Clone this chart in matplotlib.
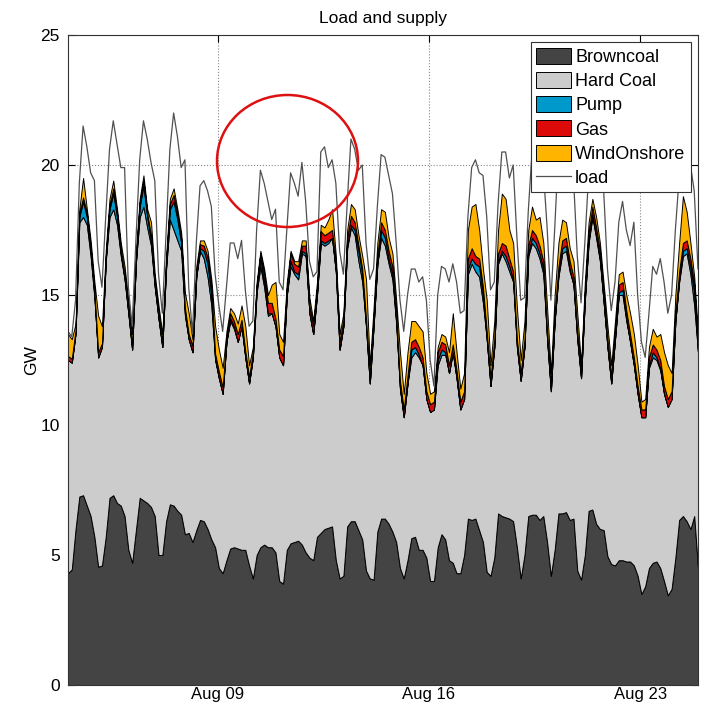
import matplotlib
matplotlib.use('Agg')
import matplotlib.pyplot as plt
import matplotlib.dates as mdates
from matplotlib.patches import Ellipse
import pandas as pd

plt.rcParams['font.family'] = ['Liberation Sans', 'DejaVu Sans']

# 3-hourly samples, Aug 04 01:00 .. Aug 24 22:00 (one row per day)
times = pd.date_range('2015-08-04 01:00', periods=168, freq='3h')

browncoal = [
    4.3, 4.45, 6.0, 7.25, 7.3, 6.9, 6.5, 5.7,
    4.55, 4.6, 5.7, 7.2, 7.3, 7.0, 6.9, 6.5,
    5.2, 4.7, 5.96, 7.2, 7.1, 7.0, 6.85, 6.5,
    5.0, 5.0, 6.3, 6.95, 6.9, 6.7, 6.55, 5.8,
    5.85, 5.5, 5.95, 6.35, 6.3, 6.0, 5.6, 5.3,
    4.5, 4.3, 4.8, 5.25, 5.3, 5.25, 5.2, 5.2,
    4.6, 4.1, 5.0, 5.3, 5.4, 5.3, 5.3, 5.1,
    4.0, 3.9, 5.2, 5.45, 5.5, 5.55, 5.4, 5.1,
    4.9, 4.8, 5.7, 5.85, 6.0, 6.05, 6.1, 4.8,
    4.1, 4.2, 6.1, 6.3, 6.3, 5.95, 5.6, 4.4,
    4.1, 4.05, 5.9, 6.4, 6.4, 6.2, 5.9, 5.5,
    4.5, 4.1, 4.8, 5.65, 5.7, 5.2, 5.2, 4.9,
    4.0, 4.0, 5.3, 5.8, 5.6, 4.8, 4.7, 4.3,
    4.3, 5.0, 6.4, 6.35, 6.4, 5.95, 5.5, 4.35,
    4.2, 4.9, 6.6, 6.5, 6.45, 6.4, 6.3, 5.3,
    4.1, 5.0, 6.5, 6.55, 6.55, 6.35, 6.5, 5.5,
    4.2, 5.2, 6.6, 6.6, 6.65, 6.35, 6.4, 4.4,
    4.05, 5.0, 6.7, 6.75, 6.2, 6.0, 5.96, 4.95,
    4.65, 4.6, 4.8, 4.8, 4.75, 4.75, 4.6, 4.2,
    3.5, 3.8, 4.5, 4.7, 4.75, 4.5, 4.0, 3.45,
    3.7, 4.9, 6.35, 6.5, 6.3, 6.0, 6.5, 4.5,
]

hardcoal = [
    8.2, 7.95, 7.5, 10.55, 10.7, 10.8, 10.0, 9.2,
    8.05, 8.4, 10.6, 10.8, 11.0, 10.7, 9.6, 9.1,
    9.1, 8.2, 10.3, 10.8, 11.3, 10.6, 10.05, 8.8,
    9.1, 8.0, 9.7, 10.95, 10.6, 10.4, 10.15, 8.4,
    7.45, 7.3, 9.75, 10.35, 10.1, 9.7, 9.0, 7.2,
    7.3, 6.9, 8.4, 8.75, 8.4, 7.95, 8.6, 7.4,
    7.0, 8.5, 10.1, 10.8, 9.9, 8.9, 9.0, 8.7,
    8.6, 8.4, 9.8, 10.65, 10.3, 10.05, 11.2, 11.4,
    9.4, 8.7, 9.3, 11.15, 10.9, 10.95, 11.1, 11.1,
    8.8, 9.6, 10.7, 11.3, 11.0, 10.35, 9.9, 9.4,
    7.5, 9.75, 10.3, 10.8, 10.5, 10.0, 9.7, 8.4,
    6.9, 6.2, 6.8, 6.95, 7.1, 7.4, 7.1, 6.1,
    6.5, 6.6, 7.0, 6.9, 7.1, 7.2, 8.1, 7.5,
    6.3, 6.0, 9.4, 9.85, 9.5, 9.75, 9.2, 8.95,
    7.3, 8.1, 9.6, 10.1, 9.85, 9.5, 9.2, 7.7,
    7.6, 8.0, 10.0, 10.45, 10.25, 10.05, 9.3, 7.8,
    7.1, 8.8, 9.1, 10.0, 10.05, 9.55, 9.0, 8.9,
    7.75, 9.8, 10.3, 11.25, 11.0, 10.3, 8.75, 8.05,
    6.95, 8.7, 10.2, 10.2, 9.25, 8.45, 7.7, 7.0,
    6.8, 6.5, 7.7, 7.9, 7.75, 7.6, 7.2, 7.25,
    7.3, 9.1, 9.15, 10.0, 10.3, 9.8, 8.1, 8.3,
]

pump = [
    0, 0, 0.05, 0.2, 0.6, 0.3, 0.2, 0.1,
    0, 0, 0.05, 0.3, 0.6, 0.3, 0.1, 0.05,
    0, 0, 0, 0.4, 0.8, 0.4, 0.2, 0.05,
    0, 0, 0.1, 0.4, 1.1, 0.8, 0.3, 0.1,
    0, 0, 0, 0.1, 0.3, 0.5, 0.4, 0.05,
    0, 0, 0, 0.1, 0.1, 0, 0, 0,
    0, 0, 0.1, 0.3, 0.2, 0.1, 0, 0,
    0, 0, 0, 0.2, 0.1, 0.2, 0.1, 0.1,
    0, 0, 0, 0.1, 0.1, 0.1, 0, 0,
    0, 0, 0.1, 0.1, 0.2, 0.4, 0.3, 0,
    0, 0, 0, 0.3, 0.3, 0.2, 0.2, 0.1,
    0, 0, 0, 0.3, 0.2, 0.1, 0, 0,
    0, 0, 0.2, 0.2, 0.1, 0, 0, 0,
    0, 0, 0.2, 0.2, 0.3, 0.4, 0.3, 0,
    0, 0, 0.1, 0.1, 0.2, 0.2, 0.1, 0,
    0, 0, 0.1, 0.2, 0.2, 0.2, 0.2, 0,
    0, 0, 0.1, 0.2, 0.2, 0.1, 0, 0,
    0, 0, 0.1, 0.1, 0.1, 0.1, 0, 0,
    0, 0, 0.1, 0.2, 0.1, 0, 0, 0,
    0, 0, 0.1, 0.2, 0.1, 0.1, 0, 0,
    0, 0, 0.1, 0.2, 0.2, 0.3, 0.5, 0,
]

gas = [
    0.15, 0.15, 0.1, 0.15, 0.15, 0.15, 0.15, 0.2,
    0.2, 0.15, 0.1, 0.15, 0.2, 0.15, 0.15, 0.15,
    0.2, 0.2, 0.15, 0.15, 0.2, 0.15, 0.2, 0.15,
    0.2, 0.2, 0.15, 0.2, 0.25, 0.2, 0.2, 0.2,
    0.2, 0.25, 0.15, 0.15, 0.2, 0.25, 0.3, 0.2,
    0.25, 0.25, 0.15, 0.2, 0.2, 0.3, 0.25, 0.25,
    0.25, 0.2, 0.15, 0.2, 0.3, 0.4, 0.4, 0.3,
    0.3, 0.35, 0.25, 0.3, 0.3, 0.3, 0.2, 0.3,
    0.3, 0.3, 0.25, 0.35, 0.3, 0.3, 0.3, 0.3,
    0.3, 0.25, 0.3, 0.35, 0.3, 0.2, 0.2, 0.3,
    0.3, 0.3, 0.3, 0.3, 0.3, 0.3, 0.3, 0.3,
    0.3, 0.3, 0.3, 0.3, 0.3, 0.3, 0.3, 0.3,
    0.3, 0.3, 0.3, 0.3, 0.3, 0.3, 0.3, 0.3,
    0.3, 0.3, 0.4, 0.4, 0.3, 0.3, 0.3, 0.3,
    0.3, 0.3, 0.3, 0.3, 0.4, 0.3, 0.3, 0.3,
    0.3, 0.3, 0.3, 0.3, 0.3, 0.3, 0.3, 0.3,
    0.3, 0.3, 0.3, 0.3, 0.3, 0.3, 0.3, 0.3,
    0.3, 0.3, 0.3, 0.3, 0.3, 0.3, 0.3, 0.3,
    0.3, 0.3, 0.3, 0.3, 0.3, 0.3, 0.3, 0.3,
    0.3, 0.3, 0.3, 0.3, 0.3, 0.3, 0.3, 0.3,
    0.3, 0.3, 0.3, 0.3, 0.3, 0.3, 0.3, 0.3,
]

wind = [
    0.85, 0.75, 0.25, 0.15, 0.75, 0.15, 0.25, 0.3,
    1.4, 0.65, 0.25, 0.25, 0.3, 0.15, 0.25, 0.3,
    0.3, 0.4, 0.25, 0.15, 0.2, 0.15, 0.5, 0.3,
    0.3, 0.3, 0.25, 0.2, 0.25, 0.2, 0.2, 0.6,
    0.8, 0.25, 0.25, 0.15, 0.2, 0.25, 0.3, 1.05,
    0.85, 0.75, 0.25, 0.2, 0.3, 0.4, 0.55, 0.95,
    0.45, 0.2, 0.15, 0.1, 0.2, 0.3, 0.7, 1.4,
    0.6, 0.55, 0.25, 0.1, 0.1, 0.2, 0.2, 0.2,
    0.3, 0.2, 0.25, 0.25, 0.3, 0.5, 0.8, 0.3,
    0.3, 0.25, 0.3, 0.45, 0.5, 0.4, 0.5, 1.5,
    0.4, 0.4, 0.5, 0.5, 0.7, 0.5, 0.5, 0.5,
    1.1, 0.6, 0.9, 0.8, 0.7, 0.8, 1.0, 0.7,
    0.4, 0.4, 0.2, 0.3, 0.3, 0.5, 1.2, 0.7,
    0.5, 0.7, 1.1, 1.6, 2.0, 1.1, 0.7, 1.2,
    0.5, 0.7, 0.9, 1.9, 1.8, 1.1, 1.1, 1.2,
    0.5, 0.7, 0.6, 0.9, 0.6, 1.1, 0.7, 0.9,
    0.4, 0.7, 0.9, 0.8, 0.6, 0.5, 0.6, 0.7,
    0.2, 0.4, 0.4, 0.3, 0.4, 0.3, 0.4, 0.5,
    0.4, 0.4, 0.4, 0.4, 0.6, 0.8, 0.9, 0.8,
    0.3, 0.4, 0.4, 0.6, 0.5, 1.0, 1.3, 1.3,
    0.7, 0.7, 1.1, 1.8, 1.1, 0.6, 0.3, 0.4,
]

load = [
    13.6, 13.4, 14.8, 19.3, 21.5, 20.7, 19.7, 19.4,
    16.3, 15.3, 18.0, 20.6, 21.7, 20.8, 19.9, 19.9,
    15.3, 13.8, 17.1, 20.2, 21.7, 21.0, 20.1, 19.4,
    15.8, 14.3, 17.4, 20.6, 22.0, 21.1, 19.9, 20.2,
    15.3, 13.5, 17.0, 19.2, 19.4, 19.0, 18.4, 15.8,
    14.6, 13.6, 15.3, 17.0, 17.0, 16.4, 17.1, 15.2,
    13.8, 14.0, 17.5, 19.8, 19.3, 18.6, 17.9, 18.3,
    15.5, 15.2, 17.5, 19.7, 19.3, 18.8, 20.1, 18.6,
    16.3, 15.7, 15.9, 20.5, 20.7, 19.9, 20.2, 19.3,
    16.7, 15.8, 18.5, 21.0, 20.6, 19.8, 20.0, 17.0,
    15.6, 16.0, 18.4, 20.4, 20.3, 19.6, 18.9, 17.0,
    14.8, 13.6, 15.0, 16.0, 16.0, 15.5, 15.7, 14.8,
    12.5, 11.5, 15.0, 16.1, 16.0, 15.5, 16.2, 15.5,
    14.3, 14.4, 18.0, 19.9, 20.2, 19.7, 19.6, 18.0,
    15.2, 15.5, 18.5, 20.5, 20.5, 19.5, 20.0, 17.2,
    14.8, 14.9, 18.2, 20.5, 20.8, 20.5, 19.8, 17.6,
    14.8, 17.5, 20.5, 21.0, 20.5, 19.8, 19.5, 16.5,
    14.7, 17.0, 19.6, 19.8, 19.5, 19.2, 19.0, 16.0,
    14.4, 15.5, 17.8, 18.6, 17.5, 16.9, 17.8, 15.0,
    13.2, 12.6, 14.3, 16.1, 15.8, 16.4, 15.5, 14.3,
    15.0, 17.5, 19.5, 20.3, 20.5, 20.0, 19.0, 16.0,
]

labels = ['Browncoal', 'Hard Coal', 'Pump', 'Gas', 'WindOnshore']
colors = ['#444444', '#cccccc', '#0099cc', '#dd0a0a', '#ffb400']

fig = plt.figure(figsize=(7.01, 7.05), dpi=100)
ax = fig.add_axes([68 / 701, 1 - 685 / 705, 630 / 701, 650 / 705])

ax.stackplot(times, browncoal, hardcoal, pump, gas, wind,
             labels=labels, colors=colors, edgecolor='k', linewidth=0.7)
ax.plot(times, load, color='#505050', lw=0.9, label='load')

ax.set_xlim(times[0], times[-1])
ax.set_ylim(0, 25)
ax.set_yticks([0, 5, 10, 15, 20, 25])
ax.set_xticks(pd.to_datetime(['2015-08-09', '2015-08-16', '2015-08-23']))
ax.xaxis.set_major_formatter(mdates.DateFormatter('%b %d'))

ax.grid(True, linestyle=':', color='#888888', lw=0.8)
ax.set_axisbelow(True)
ax.tick_params(direction='in', top=True, right=True, length=5,
               labelsize=12.5, pad=6)
ax.tick_params(axis='x', labelsize=12, pad=1.5)
for s in ax.spines.values():
    s.set_linewidth(0.8)
    s.set_color('#333333')

ax.set_title('Load and supply', fontsize=12.5, pad=9)
ax.set_ylabel('GW', fontsize=12.5, labelpad=1)

leg = ax.legend(loc='upper right', fontsize=13, fancybox=False,
                framealpha=1, edgecolor='#333333', borderaxespad=0.4,
                handlelength=1.9, handleheight=1.0, handletextpad=0.25,
                labelspacing=0.33, borderpad=0.3)
leg.get_frame().set_linewidth(0.8)

# red ellipse highlight
fig.patches.append(Ellipse((287.5 / 701, 1 - 161 / 705), 141 / 701, 132 / 705,
                           transform=fig.transFigure, fill=False,
                           edgecolor='#dd1111', lw=1.8, zorder=10))

fig.savefig('out.png', dpi=100)
